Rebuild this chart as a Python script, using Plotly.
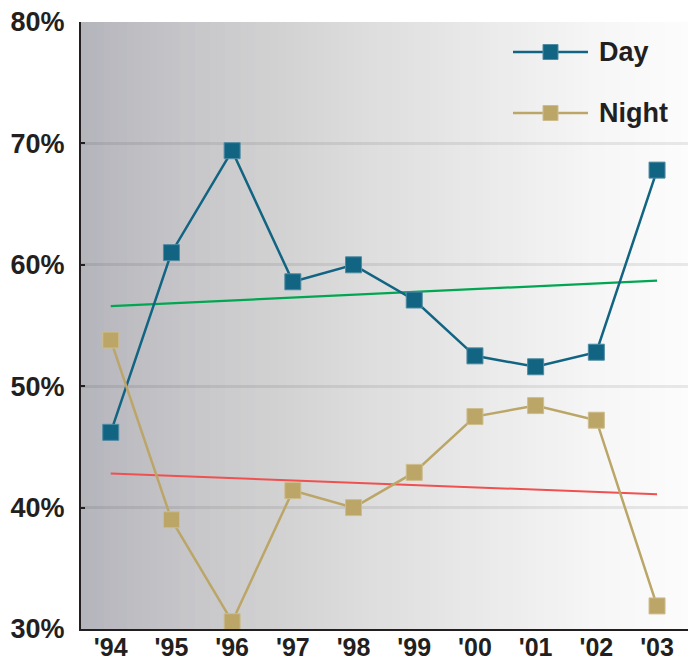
import plotly.graph_objects as go

years = ["'94", "'95", "'96", "'97", "'98", "'99", "'00", "'01", "'02", "'03"]
day = [46.2, 61.0, 69.4, 58.6, 60.0, 57.1, 52.5, 51.6, 52.8, 67.8]
night = [53.8, 39.0, 30.6, 41.4, 40.0, 42.9, 47.5, 48.4, 47.2, 31.9]
day_trend = [56.6, 58.7]     # trend endpoints at '94 and '03
night_trend = [42.8, 41.1]
y_ticks = [30, 40, 50, 60, 70, 80]
y_ticktext = ["30%", "40%", "50%", "60%", "70%", "80%"]

DAY_C = "#116482"
NIGHT_C = "#bba668"
GREEN = "#00a651"
RED = "#ef5050"
INK = "#231f20"

W, H = 695, 660
L, R, T, B = 81, 7, 22, 31
PW, PH = W - L - R, H - T - B

x_idx = list(range(len(years)))
trend_x = [x_idx[0], x_idx[-1]]

fig = go.Figure()
fig.add_trace(go.Scatter(x=trend_x, y=day_trend, mode="lines",
                         line=dict(color=GREEN, width=2.2), showlegend=False, hoverinfo="skip"))
fig.add_trace(go.Scatter(x=trend_x, y=night_trend, mode="lines",
                         line=dict(color=RED, width=2), showlegend=False, hoverinfo="skip"))
fig.add_trace(go.Scatter(x=x_idx, y=day, mode="lines+markers", name="Day",
                         line=dict(color=DAY_C, width=2.5),
                         marker=dict(symbol="square", size=16, color=DAY_C,
                                     line=dict(color="#4f8ba3", width=1)),
                         showlegend=False))
fig.add_trace(go.Scatter(x=x_idx, y=night, mode="lines+markers", name="Night",
                         line=dict(color=NIGHT_C, width=2.5),
                         marker=dict(symbol="square", size=16, color=NIGHT_C,
                                     line=dict(color="#cdbd8e", width=1)),
                         showlegend=False))

# background gradient (left dark grey -> right white)
stops = [(0.0, (180, 180, 187)), (0.15, (196, 196, 200)), (0.3, (208, 208, 209)),
         (0.5, (223, 223, 223)), (0.7, (236, 236, 236)), (0.85, (246, 246, 246)),
         (1.0, (252, 252, 252))]

def grad(t):
    for (t0, c0), (t1, c1) in zip(stops[:-1], stops[1:]):
        if t0 <= t <= t1:
            f = (t - t0) / (t1 - t0)
            return "rgb(%d,%d,%d)" % tuple(round(a + (b - a) * f) for a, b in zip(c0, c1))
    return "rgb(252,252,252)"

shapes = []
N = 80
for i in range(N):
    x0 = i / N
    x1 = (i + 1) / N + 0.002
    shapes.append(dict(type="rect", xref="x domain", yref="y domain",
                       x0=x0, x1=min(x1, 1), y0=0, y1=1,
                       fillcolor=grad((i + 0.5) / N), line=dict(width=0), layer="below"))

# manual legend
def px_x(p):
    return (p - L) / PW

def px_y(p):
    return (H - B - p) / PH

annotations = []
for name, col, edge, cy in [("Day", DAY_C, "#4f8ba3", 52), ("Night", NIGHT_C, "#cdbd8e", 113)]:
    shapes.append(dict(type="line", xref="paper", yref="paper",
                       x0=px_x(513), x1=px_x(588), y0=px_y(cy), y1=px_y(cy),
                       line=dict(color=col, width=2.5), layer="above"))
    shapes.append(dict(type="rect", xref="paper", yref="paper",
                       x0=px_x(543), x1=px_x(558), y0=px_y(cy + 7.5), y1=px_y(cy - 7.5),
                       fillcolor=col, line=dict(color=edge, width=1), layer="above"))
    annotations.append(dict(text=name, xref="paper", yref="paper", x=px_x(597), y=px_y(cy),
                            xanchor="left", yanchor="middle", showarrow=False,
                            font=dict(family="Liberation Sans", size=27, color=INK, weight="bold")))

fig.update_layout(
    width=W, height=H,
    margin=dict(l=L, r=R, t=T, b=B),
    paper_bgcolor="white",
    plot_bgcolor="white",
    shapes=shapes,
    annotations=annotations,
    showlegend=False,
    xaxis=dict(range=[-0.49, 9.51], tickvals=x_idx, ticktext=years,
               showgrid=False, zeroline=False, showline=True, linecolor=INK, linewidth=2,
               ticks="", ticklabelstandoff=-5, automargin=False,
               tickfont=dict(family="Liberation Sans", size=25, color=INK, weight="bold"),
               fixedrange=True),
    yaxis=dict(range=[30, 80], tickvals=y_ticks, ticktext=y_ticktext,
               showgrid=True, gridcolor="rgba(0,0,0,0.08)", gridwidth=3,
               zeroline=False, showline=True, linecolor=INK, linewidth=2,
               ticks="inside", ticklen=4, tickcolor=INK, tickwidth=2,
               ticklabelstandoff=9, automargin=False,
               tickfont=dict(family="Liberation Sans", size=27, color=INK, weight="bold"),
               fixedrange=True),
)

fig.write_html("out.html", config={"displayModeBar": False},
               post_script="document.body.style.margin='0';document.body.style.overflow='hidden';")
